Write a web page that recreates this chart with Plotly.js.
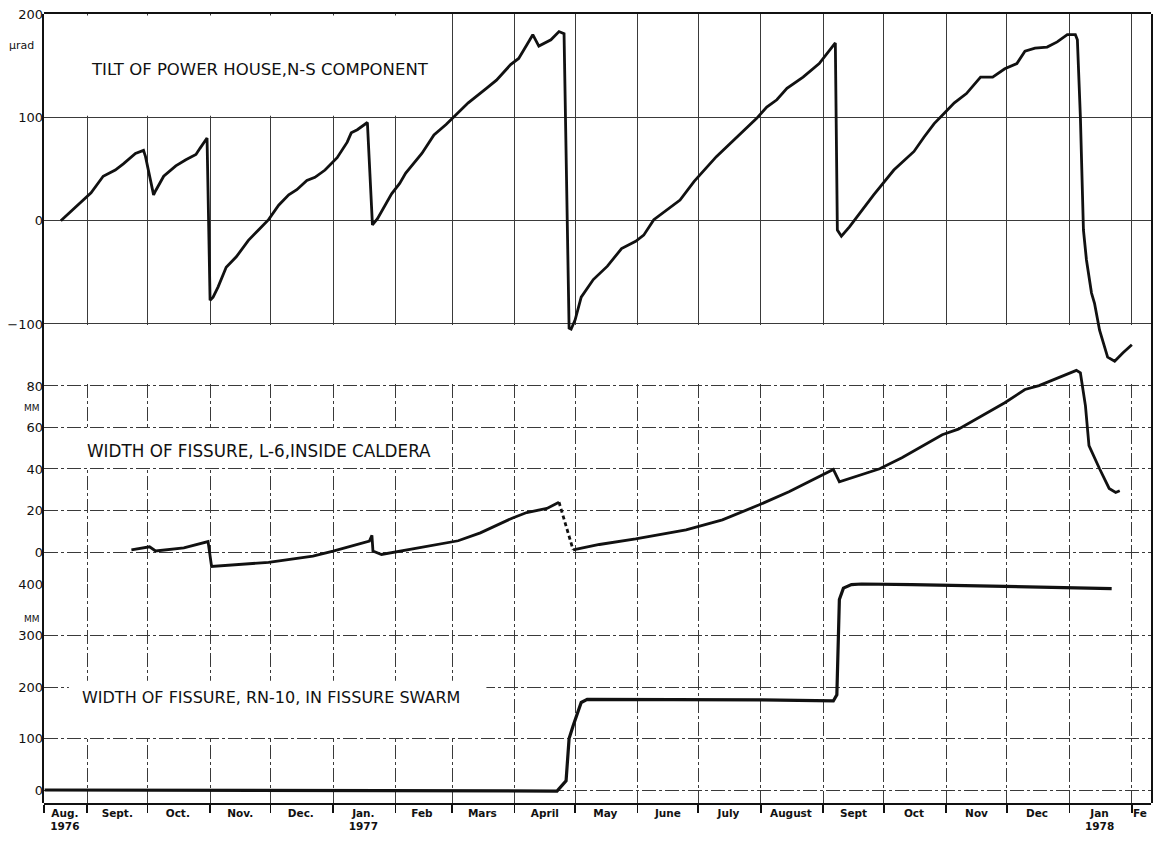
<!DOCTYPE html>
<html>
<head>
<meta charset="utf-8">
<script src="https://cdn.plot.ly/plotly-3.0.1.min.js"></script>
<style>
  html, body { margin: 0; padding: 0; background: #ffffff; }
  #chart { width: 1154px; height: 845px; }
</style>
</head>
<body>
<div id="chart"></div>
<script>
// ---------------- DATA ----------------
// Tilt of power house, N-S component (microradians)
const tiltDates = [
  "1976-08-19","1976-08-24","1976-08-31","1976-09-03","1976-09-09","1976-09-15","1976-09-19","1976-09-25","1976-09-29","1976-09-30",
  "1976-10-04","1976-10-05","1976-10-09","1976-10-15","1976-10-20","1976-10-25","1976-10-27","1976-10-30 12:00",
  "1976-11-01","1976-11-02 12:00","1976-11-05","1976-11-09","1976-11-14","1976-11-20","1976-11-25","1976-11-30",
  "1976-12-05","1976-12-10","1976-12-14","1976-12-19","1976-12-23","1976-12-28",
  "1977-01-03","1977-01-08","1977-01-10","1977-01-13","1977-01-18","1977-01-20 12:00","1977-01-23","1977-01-30",
  "1977-02-03","1977-02-06","1977-02-14","1977-02-20","1977-02-26",
  "1977-03-04","1977-03-09","1977-03-18","1977-03-23","1977-03-30",
  "1977-04-03","1977-04-07","1977-04-10","1977-04-13","1977-04-19","1977-04-23","1977-04-25 12:00","1977-04-28","1977-04-29",
  "1977-05-01","1977-05-04","1977-05-10","1977-05-17","1977-05-24","1977-05-31",
  "1977-06-04","1977-06-09","1977-06-22","1977-06-29",
  "1977-07-10","1977-07-23","1977-07-30",
  "1977-08-04","1977-08-09","1977-08-14","1977-08-22","1977-08-30",
  "1977-09-07","1977-09-08","1977-09-10","1977-09-14","1977-09-19","1977-09-26",
  "1977-10-06","1977-10-16","1977-10-21","1977-10-26","1977-10-31",
  "1977-11-05","1977-11-11","1977-11-18","1977-11-24","1977-11-30",
  "1977-12-06","1977-12-10","1977-12-15","1977-12-21","1977-12-26","1977-12-31",
  "1978-01-04","1978-01-05","1978-01-06 12:00","1978-01-08","1978-01-09 12:00","1978-01-12","1978-01-13 12:00",
  "1978-01-16","1978-01-20","1978-01-23 12:00","1978-01-27 12:00","1978-02-01"
];
const tiltValues = [
  0,9,22,27,43,49,55,65,68,62,
  25,29,43,53,59,64,70,80,
  -77,-74,-64,-45,-35,-19,-9,1,
  15,25,30,39,42,49,
  61,76,85,88,95,-4,2,26,
  36,46,65,83,93,
  105,114,128,136,151,
  157,170,180,169,175,183,181,-104,-105,
  -96,-74,-57,-44,-27,-20,
  -14,1,20,38,
  62,86,99,
  110,117,128,139,152,
  172,-9,-15,-6,7,25,
  49,67,81,94,104,
  114,123,139,139,147,
  152,164,167,168,173,180,
  180,175,100,-9,-38,-70,-80,
  -106,-132,-136,-128,-120
];

// Width of fissure L-6, inside caldera (mm)
const l6Dates1 = [
  "1976-09-23","1976-10-01","1976-10-02","1976-10-05","1976-10-19","1976-10-31",
  "1976-11-01 18:00","1976-11-30","1976-12-11","1976-12-22",
  "1977-01-01","1977-01-14","1977-01-19","1977-01-20 06:00","1977-01-20 18:00","1977-01-25",
  "1977-02-13","1977-03-04","1977-03-15","1977-03-31","1977-04-07","1977-04-17","1977-04-23"
];
const l6Values1 = [1,2.5,2.5,0.5,2,5,-7,-5,-3.6,-2,0.4,3.6,5.2,8,0.5,-1.2,2,5.4,9.2,16.4,19,21,24];
const l6GapDates = ["1977-04-23","1977-04-30"];
const l6GapValues = [24,1];
const l6Dates2 = [
  "1977-04-30","1977-05-13","1977-05-31","1977-06-25","1977-07-13","1977-07-31","1977-08-15",
  "1977-09-06","1977-09-09","1977-09-29","1977-10-10","1977-10-30","1977-11-07","1977-11-30",
  "1977-12-10","1977-12-17","1978-01-04 12:00","1978-01-06 12:00","1978-01-09","1978-01-10 18:00",
  "1978-01-16","1978-01-20 18:00","1978-01-24","1978-01-26"
];
const l6Values2 = [1,3.6,6.3,10.7,15.5,22.6,29,39.8,33.8,40.1,45.4,56.5,59.2,71.9,78.3,80.2,87.5,86.3,70.4,51.3,40.1,30.6,28.7,29.5];

// Width of fissure RN-10, in fissure swarm (mm)
const rn10Dates = [
  "1976-08-11","1977-01-01","1977-04-22","1977-04-26 12:00","1977-04-28","1977-04-30","1977-05-04","1977-05-07",
  "1977-06-01","1977-08-01","1977-09-06","1977-09-07 18:00","1977-09-09","1977-09-11","1977-09-15","1977-09-20",
  "1977-10-15","1978-01-22"
];
const rn10Values = [0,-1,-2,18,100,125,170,176,176,175,173,185,370,392,399,400,399,391];

// Axis ticks / labels
const monthBoundaries = [
  "1976-09-01","1976-10-01","1976-11-01","1976-12-01","1977-01-01","1977-02-01","1977-03-01","1977-04-01","1977-05-01",
  "1977-06-01","1977-07-01","1977-08-01","1977-09-01","1977-10-01","1977-11-01","1977-12-01","1978-01-01","1978-02-01"
];
const monthLabelDates = [
  "1976-08-21","1976-09-16","1976-10-16","1976-11-16","1976-12-16","1977-01-16","1977-02-14","1977-03-16","1977-04-16",
  "1977-05-16","1977-06-16","1977-07-16","1977-08-16","1977-09-16","1977-10-16","1977-11-16","1977-12-16","1978-01-16","1978-02-05"
];
const monthLabels = [
  "Aug.<br>1976","Sept.","Oct.","Nov.","Dec.","Jan.<br>1977","Feb","Mars","April",
  "May","June","July","August","Sept","Oct","Nov","Dec","Jan<br>1978","Fe"
];
const tiltTicks = [-100, 0, 100, 200];
const l6Ticks = [0, 20, 40, 60, 80];
const rn10Ticks = [0, 100, 200, 300, 400];

// ---------------- LAYOUT ----------------
const X_RANGE = ["1976-08-10 16:00", "1978-02-10 12:00"];
const FONT = "DejaVu Sans, Liberation Sans, sans-serif";
const INK = "#111111";
const LINE_W = 2.8;

function gridX(anchor, dash) {
  return {
    type: "date", range: X_RANGE, anchor: anchor, domain: [0, 1], fixedrange: true,
    tickvals: monthBoundaries, showticklabels: false, ticks: "",
    showgrid: true, gridcolor: "#3a3a3a", gridwidth: 1, griddash: dash,
    zeroline: false, showline: false
  };
}
function gridY(anchor, range, domain, ticks, dash) {
  return {
    anchor: anchor, range: range, domain: domain, fixedrange: true,
    tickvals: ticks, ticks: "", showticklabels: true,
    tickfont: {family: FONT, size: 13, color: INK},
    showgrid: true, gridcolor: "#3a3a3a", gridwidth: 1, griddash: dash,
    zeroline: false, showline: false
  };
}
function hiddenX(anchor) {
  return {type: "date", range: X_RANGE, anchor: anchor, domain: [0, 1], visible: false, fixedrange: true};
}
function hiddenY(anchor, range) {
  return {anchor: anchor, range: range, domain: [0, 1], visible: false, fixedrange: true};
}

const traces = [
  {x: tiltDates, y: tiltValues, xaxis: "x4", yaxis: "y4", type: "scatter", mode: "lines",
   line: {color: INK, width: LINE_W}, hoverinfo: "skip", showlegend: false},
  {x: l6Dates1, y: l6Values1, xaxis: "x5", yaxis: "y5", type: "scatter", mode: "lines",
   line: {color: INK, width: LINE_W}, hoverinfo: "skip", showlegend: false},
  {x: l6GapDates, y: l6GapValues, xaxis: "x5", yaxis: "y5", type: "scatter", mode: "lines",
   line: {color: INK, width: LINE_W, dash: "4px,3px"}, hoverinfo: "skip", showlegend: false},
  {x: l6Dates2, y: l6Values2, xaxis: "x5", yaxis: "y5", type: "scatter", mode: "lines",
   line: {color: INK, width: LINE_W}, hoverinfo: "skip", showlegend: false},
  {x: rn10Dates, y: rn10Values, xaxis: "x6", yaxis: "y6", type: "scatter", mode: "lines",
   line: {color: INK, width: LINE_W + 0.4}, hoverinfo: "skip", showlegend: false}
];

const layout = {
  width: 1154, height: 845,
  margin: {l: 44, r: 3, t: 14, b: 42},
  paper_bgcolor: "#ffffff", plot_bgcolor: "rgba(0,0,0,0)",
  showlegend: false,
  font: {family: FONT, color: INK},
  // grid subplots
  xaxis: Object.assign(gridX("y", "solid"), {side: "top", showline: true, linewidth: 2, linecolor: INK}),
  yaxis: gridY("x", [-101, 200], [0.6058, 1], tiltTicks, "solid"),
  xaxis2: gridX("y2", "14px,3px,3px,3px"),
  yaxis2: gridY("x2", [-15.4, 81], [0.2776, 0.5312], l6Ticks, "14px,3px,3px,3px"),
  xaxis3: Object.assign(gridX("y3", "14px,3px,3px,3px"), {
    tickvals: [X_RANGE[0]].concat(monthBoundaries),
    ticks: "outside", ticklen: 8, tickwidth: 1.6, tickcolor: INK,
    showline: true, linewidth: 2, linecolor: INK
  }),
  yaxis3: gridY("x3", [-25.2, 401], [0, 0.2782], rn10Ticks, "14px,3px,3px,3px"),
  // data subplots (full height, same x scale)
  xaxis4: {
    type: "date", range: X_RANGE, anchor: "y4", domain: [0, 1], fixedrange: true,
    tickvals: monthLabelDates, ticktext: monthLabels, ticks: "", ticklen: 0,
    ticklabelstandoff: 2,
    tickfont: {family: FONT, size: 10.5, color: INK, weight: "bold"},
    showgrid: false, zeroline: false, showline: false
  },
  yaxis4: {anchor: "x4", range: [-563.5, 200], domain: [0, 1], fixedrange: true,
    showticklabels: false, ticks: "", showgrid: false, zeroline: false,
    showline: true, mirror: true, linewidth: 2, linecolor: INK},
  xaxis5: hiddenX("y5"),
  yaxis5: hiddenY("x5", [-121.0, 259.3]),
  xaxis6: hiddenX("y6"),
  yaxis6: hiddenY("x6", [-25.2, 1506.8]),
  shapes: [
    {type: "rect", layer: "between", xref: "x", yref: "y", x0: X_RANGE[0], x1: "1977-02-14", y0: 101.5, y1: 198.5,
     fillcolor: "#ffffff", line: {width: 0}},
    {type: "rect", layer: "between", xref: "x2", yref: "y2", x0: X_RANGE[0], x1: "1977-02-23", y0: 41, y1: 59,
     fillcolor: "#ffffff", line: {width: 0}},
    {type: "rect", layer: "between", xref: "x3", yref: "y3", x0: "1976-08-23", x1: "1977-03-18", y0: 103, y1: 212,
     fillcolor: "#ffffff", line: {width: 0}}
  ],
  annotations: [
    {text: "TILT OF POWER HOUSE,N-S COMPONENT", xref: "paper", yref: "paper", x: 0.195, y: 0.930,
     xanchor: "center", yanchor: "middle", showarrow: false, font: {family: FONT, size: 16.5, color: INK}},
    {text: "WIDTH OF FISSURE, L-6,INSIDE CALDERA", xref: "paper", yref: "paper", x: 0.1938, y: 0.4461,
     xanchor: "center", yanchor: "middle", showarrow: false, font: {family: FONT, size: 16.8, color: INK}},
    {text: "WIDTH OF FISSURE, RN-10, IN FISSURE SWARM", xref: "paper", yref: "paper", x: 0.205, y: 0.1331,
     xanchor: "center", yanchor: "middle", showarrow: false, font: {family: FONT, size: 16, color: INK}},
    {text: "µrad", xref: "paper", yref: "paper", x: -0.0199, y: 0.9607,
     xanchor: "center", yanchor: "middle", showarrow: false, font: {family: FONT, size: 11, color: INK}},
    {text: "MM", xref: "paper", yref: "paper", x: -0.0108, y: 0.5006,
     xanchor: "center", yanchor: "middle", showarrow: false, font: {family: FONT, size: 9, color: INK}},
    {text: "MM", xref: "paper", yref: "paper", x: -0.0108, y: 0.2332,
     xanchor: "center", yanchor: "middle", showarrow: false, font: {family: FONT, size: 9, color: INK}}
  ]
};

Plotly.newPlot("chart", traces, layout, {staticPlot: true, displayModeBar: false});
</script>
</body>
</html>
